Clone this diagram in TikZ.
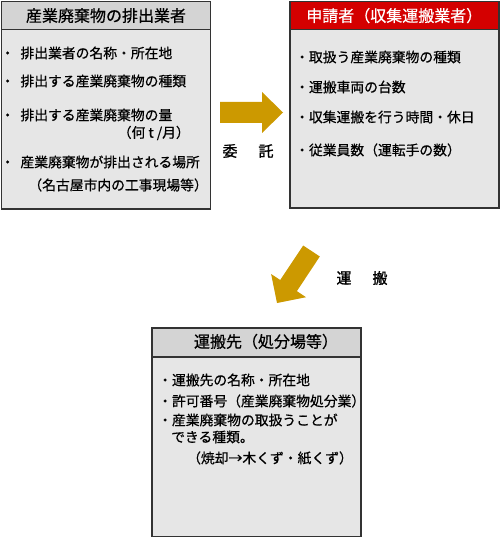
\documentclass[tikz,border=0pt]{standalone}
\usepackage{fontspec}
\setmainfont{Noto Sans CJK JP}[FakeBold=0.6]
\newfontfamily\lblfont{Noto Sans CJK JP}[FakeBold=1.2]
\definecolor{bordc}{HTML}{333333}
\definecolor{headc}{HTML}{D4D4D4}
\definecolor{bodyc}{HTML}{E6E6E6}
\definecolor{redc}{HTML}{D40000}
\definecolor{arrc}{HTML}{CC9900}
\begin{document}
\begin{tikzpicture}[x=1pt,y=-1pt,
  hdr/.style={draw=bordc, line width=1.5pt, fill=headc, anchor=north west, inner sep=0pt, minimum width=209pt, font=\fontsize{16}{18}\selectfont},
  bodybox/.style={draw=bordc, line width=1.5pt, fill=bodyc, anchor=north west, inner sep=0pt, minimum width=209pt},
  txt/.style={anchor=west, inner sep=0pt, font=\fontsize{13.8}{16}\selectfont},
  txte/.style={anchor=east, inner sep=0pt, font=\fontsize{13.8}{16}\selectfont},
  lbl/.style={inner sep=0pt, font=\lblfont\fontsize{15}{17}\selectfont},
  blockarrow/.style={fill=arrc, draw=none}]
\useasboundingbox (0,0) rectangle (499,537);
% box 1
\node[bodybox, minimum height=179pt] (b1) at (0.75,29) {};
\node[hdr, minimum height=28.25pt] (h1) at (0.75,0.75) {産業廃棄物の排出業者};
\node[txt] (t11) at (0.5,53) {・\hspace{6pt}排出業者の名称・所在地};
\node[txt] (t12) at (0.5,81) {・\hspace{6pt}排出する産業廃棄物の種類};
\node[txt] (t13) at (0.5,115) {・\hspace{6pt}排出する産業廃棄物の量};
\node[txte] (t14) at (190,133) {（何 t /月）};
\node[txt] (t15) at (0.5,162) {・\hspace{6pt}産業廃棄物が排出される場所};
\node[txte] (t16) at (208,185) {（名古屋市内の工事現場等）};
% box 2
\node[bodybox, minimum height=178pt] (b2) at (289,29) {};
\node[hdr, fill=redc, text=white, minimum height=28.25pt] (h2) at (289,0.75) {申請者（収集運搬業者）};
\node[txt] (t21) at (295,57) {・取扱う産業廃棄物の種類};
\node[txt] (t22) at (295,87) {・運搬車両の台数};
\node[txt] (t23) at (295,117) {・収集運搬を行う時間・休日};
\node[txt] (t24) at (295,150) {・従業員数（運転手の数）};
% box 3
\node[bodybox, minimum height=180pt] (b3) at (151,356) {};
\node[hdr, minimum height=29pt] (h3) at (151,327) {};
\node[inner sep=0pt, font=\fontsize{16}{18}\selectfont] (t3h) at (266,341.5) {運搬先（処分場等）};
\node[txt] (t31) at (158,380) {・運搬先の名称・所在地};
\node[txt] (t32) at (158,401) {・許可番号（産業廃棄物処分業）};
\node[txt] (t33) at (158,420) {・産業廃棄物の取扱うことが};
\node[txt] (t34) at (171,437) {できる種類。};
\node[txt] (t35) at (187,458) {（焼却→木くず・紙くず）};
% arrows
\fill[blockarrow] (220,102) -- (262,102) -- (262,92) -- (283,112.5) -- (262,133) -- (262,123) -- (220,123) -- cycle;
\fill[blockarrow] (303.2,245.5) -- (280.2,280.0) -- (271.1,274.0) -- (277,303) -- (306.0,297.2) -- (296.9,291.1) -- (319.8,256.5) -- cycle;
% labels
\node[lbl] (l1) at (230,151) {委};
\node[lbl] (l2) at (266,151) {託};
\node[lbl] (l3) at (344,278) {運};
\node[lbl] (l4) at (380,278) {搬};
\end{tikzpicture}
\end{document}
